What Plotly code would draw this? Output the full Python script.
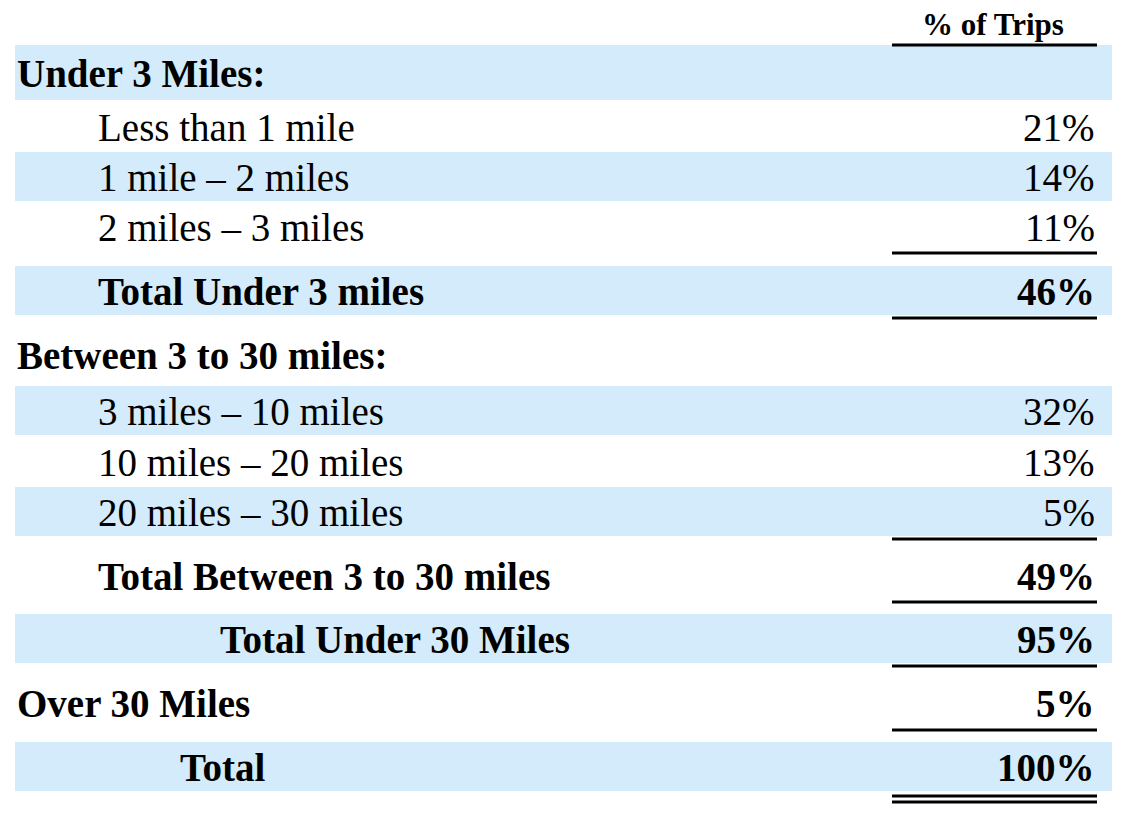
import plotly.graph_objects as go

# ---- data ----
labels = ["Under 3 Miles:", "Less than 1 mile", "1 mile \u2013 2 miles", "2 miles \u2013 3 miles",
          "Total Under 3 miles", "Between 3 to 30 miles:", "3 miles \u2013 10 miles",
          "10 miles \u2013 20 miles", "20 miles \u2013 30 miles", "Total Between 3 to 30 miles",
          "Total Under 30 Miles", "Over 30 Miles", "Total"]
values = ["", "21%", "14%", "11%", "46%", "", "32%", "13%", "5%", "49%", "95%", "5%", "100%"]
header = "% of Trips"

# ---- layout (pixel positions) ----
row_y = [73, 127, 177, 227, 291, 355, 411, 462, 512, 576, 639, 703, 767]
row_x = [15, 96, 96, 96, 96, 15, 96, 96, 96, 96, 218, 15, 178]
bold = [True, False, False, False, True, True, False, False, False, True, True, True, True]
shaded = [True, False, True, False, True, False, True, False, True, False, True, False, True]
band_half = [28, 25, 25, 25, 25, 25, 25, 25, 25, 25, 25, 25, 25]
underlines = [45, 253, 318, 539, 602, 666, 730, 796, 802]

shapes = []
for y, h, s in zip(row_y, band_half, shaded):
    if s:
        shapes.append(dict(type="rect", x0=15, x1=1112, y0=y - h, y1=y + h - 1,
                           fillcolor="#d3ebfa", line_width=0, layer="below"))
for y in underlines:
    shapes.append(dict(type="line", x0=892, x1=1097, y0=y, y1=y, line=dict(color="black", width=3)))

ann = [dict(x=993, y=24, text="<b>" + header + "</b>", showarrow=False, xanchor="center",
            yanchor="middle", font=dict(size=31, family="Liberation Serif", color="black"))]
for lab, val, x, y, b in zip(labels, values, row_x, row_y, bold):
    t = "<b>" + lab + "</b>" if b else lab
    ann.append(dict(x=x, y=y, text=t, showarrow=False, xanchor="left", yanchor="middle",
                    font=dict(size=39, family="Liberation Serif", color="black")))
    if val:
        v = "<b>" + val + "</b>" if b else val
        ann.append(dict(x=1097, y=y, text=v, showarrow=False, xanchor="right", yanchor="middle",
                        font=dict(size=39, family="Liberation Serif", color="black")))

fig = go.Figure(go.Scatter(x=[8, 1133], y=[8, 831], mode="markers", marker=dict(opacity=0),
                           hoverinfo="skip", showlegend=False))
fig.update_layout(width=1125, height=823, margin=dict(l=0, r=0, t=0, b=0),
                  plot_bgcolor="white", paper_bgcolor="white", shapes=shapes, annotations=ann,
                  xaxis=dict(range=[8, 1133], visible=False, fixedrange=True),
                  yaxis=dict(range=[831, 8], visible=False, fixedrange=True))
fig.write_html("out.html", config={"displayModeBar": False})
